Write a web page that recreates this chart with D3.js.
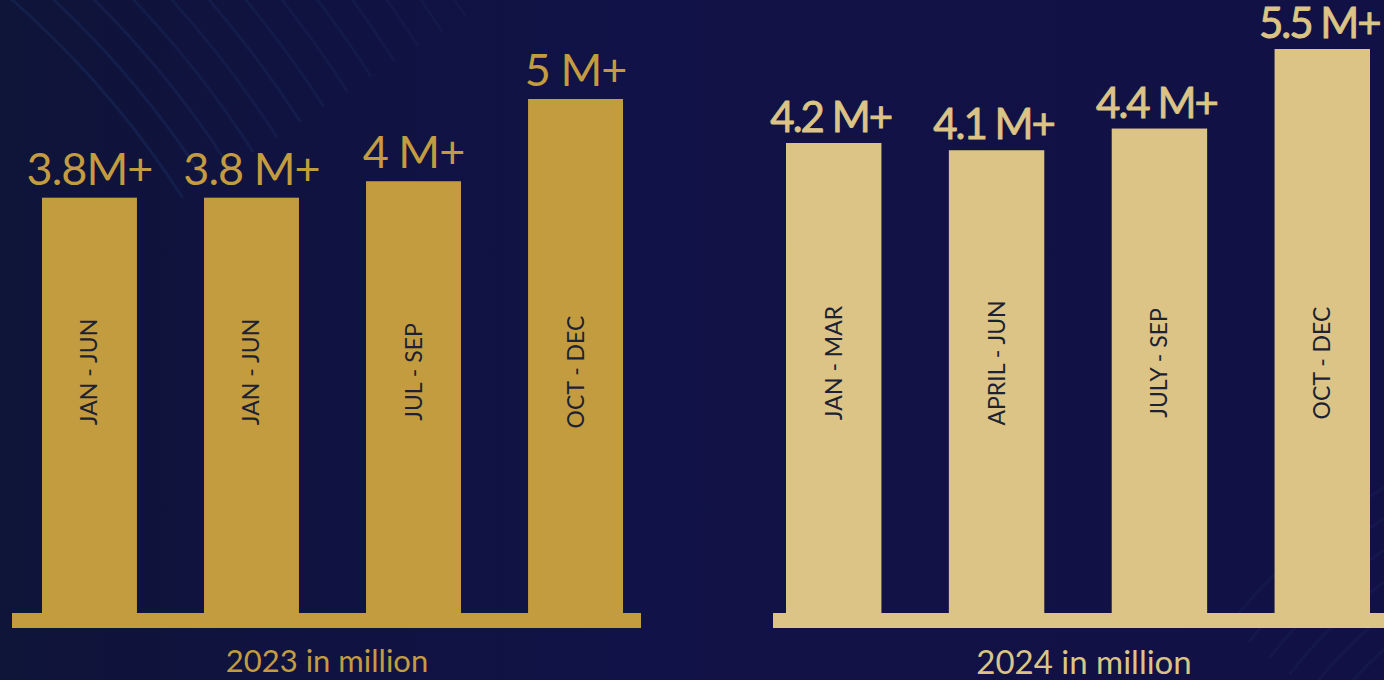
<!DOCTYPE html>
<html>
<head>
<meta charset="utf-8">
<script src="https://cdn.jsdelivr.net/npm/d3@7"></script>
<style>
  html, body { margin: 0; padding: 0; background: #10123f; overflow: hidden; }
  svg { display: block; }
</style>
</head>
<body>
<svg id="chart" width="1384" height="680"></svg>
<script>
// ---- data ----
const periods2023 = ["JAN - JUN", "JAN - JUN", "JUL - SEP", "OCT - DEC"];
const values2023  = [3.8, 3.8, 4, 5];
const valueLabels2023 = ["3.8M+", "3.8 M+", "4 M+", "5 M+"];

const periods2024 = ["JAN - MAR", "APRIL - JUN", "JULY - SEP", "OCT - DEC"];
const values2024  = [4.2, 4.1, 4.4, 5.5];
const valueLabels2024 = ["4.2 M+", "4.1 M+", "4.4 M+", "5.5 M+"];

const panelTitles = ["2023 in million", "2024 in million"];

// ---- layout ----
const W = 1384, H = 680;
const baseY = 613;      // top of baseline strip / bottom of bars
const stripH = 15;

const svg = d3.select("#chart");
const defs = svg.append("defs");

const bg = defs.append("linearGradient").attr("id", "bg")
  .attr("x1", "0").attr("y1", "0").attr("x2", "1").attr("y2", "0");
bg.append("stop").attr("offset", "0").attr("stop-color", "#0f1439");
bg.append("stop").attr("offset", "0.45").attr("stop-color", "#111247");
bg.append("stop").attr("offset", "1").attr("stop-color", "#121145");
svg.append("rect").attr("width", W).attr("height", H).attr("fill", "url(#bg)");

// decorative faint arcs (top-left and bottom-right)
const deco = svg.append("g").attr("fill", "none");
d3.range(14).forEach(i => {
  const r = 930 + i * 28;
  deco.append("path")
    .attr("d", d3.arc()({innerRadius: r, outerRadius: r, startAngle: 0.5, endAngle: 1.0}))
    .attr("transform", "translate(-600,700)")
    .attr("stroke", "#2a4a86")
    .attr("stroke-opacity", 0.2 - i * 0.009)
    .attr("stroke-width", 3);
});
d3.range(8).forEach(i => {
  const r = 420 + i * 26;
  deco.append("path")
    .attr("d", d3.arc()({innerRadius: r, outerRadius: r, startAngle: -0.9, endAngle: -0.2}))
    .attr("transform", "translate(1700,1000)")
    .attr("stroke", "#2a4a86")
    .attr("stroke-opacity", 0.12)
    .attr("stroke-width", 3);
});

function drawPanel(opts) {
  const g = svg.append("g");
  const idx = d3.range(opts.values.length);

  const x = d3.scaleBand().domain(idx).range(opts.xRange).paddingInner(0.414).paddingOuter(0);
  const y = d3.scaleLinear().domain(opts.yDomain).range([baseY, opts.yTop]);

  // baseline strip
  g.append("rect")
    .attr("x", opts.stripX[0]).attr("y", baseY)
    .attr("width", opts.stripX[1] - opts.stripX[0]).attr("height", stripH)
    .attr("fill", opts.color);

  // bars
  g.selectAll("rect.bar").data(idx).join("rect")
    .attr("class", "bar")
    .attr("x", i => x(i))
    .attr("y", i => y(opts.values[i]))
    .attr("width", x.bandwidth())
    .attr("height", i => baseY - y(opts.values[i]) + 1)
    .attr("fill", opts.color);

  // value labels
  g.selectAll("text.val").data(idx).join("text")
    .attr("class", "val")
    .attr("x", i => x(i) + x.bandwidth() / 2 + opts.valDx)
    .attr("y", i => y(opts.values[i]) - opts.valGap)
    .attr("text-anchor", "middle")
    .attr("font-family", "Lato, 'Open Sans', sans-serif")
    .attr("font-size", opts.valSize)
    .attr("font-weight", 400)
    .attr("letter-spacing", opts.valSpacing)
    .attr("fill", opts.color)
    .attr("stroke", opts.color)
    .attr("stroke-width", opts.valStroke)
    .text(i => opts.labels[i]);

  // rotated period labels inside bars
  g.selectAll("text.cat").data(idx).join("text")
    .attr("class", "cat")
    .attr("transform", i => `translate(${x(i) + x.bandwidth() / 2 + 8},${opts.catY}) rotate(-90)`)
    .attr("text-anchor", "middle")
    .attr("font-family", "Lato, 'Open Sans', sans-serif")
    .attr("font-size", 23)
    .attr("fill", "#1c2232")
    .text(i => opts.periods[i]);

  // panel title
  g.append("text")
    .attr("x", opts.titleX).attr("y", opts.titleY)
    .attr("text-anchor", "middle")
    .attr("font-family", "Lato, 'Open Sans', sans-serif")
    .attr("font-size", opts.titleSize)
    .attr("fill", opts.color)
    .text(opts.title);
}

drawPanel({
  values: values2023, labels: valueLabels2023, periods: periods2023,
  color: "#c49c40",
  xRange: [42, 623],
  yDomain: [-1.25, 5], yTop: 99,
  stripX: [12, 641],
  valSize: 45, valSpacing: -1, valStroke: 0, valDx: 0, valGap: 13,
  catY: 372,
  title: panelTitles[0], titleX: 327, titleY: 672, titleSize: 31
});

drawPanel({
  values: values2024, labels: valueLabels2024, periods: periods2024,
  color: "#dbc486",
  xRange: [786, 1370],
  yDomain: [-2.3, 5.5], yTop: 49,
  stripX: [773, 1395],
  valSize: 42, valSpacing: -2, valStroke: 0.9, valDx: -3, valGap: 11,
  catY: 363,
  title: panelTitles[1], titleX: 1084, titleY: 674, titleSize: 33
});
</script>
</body>
</html>
